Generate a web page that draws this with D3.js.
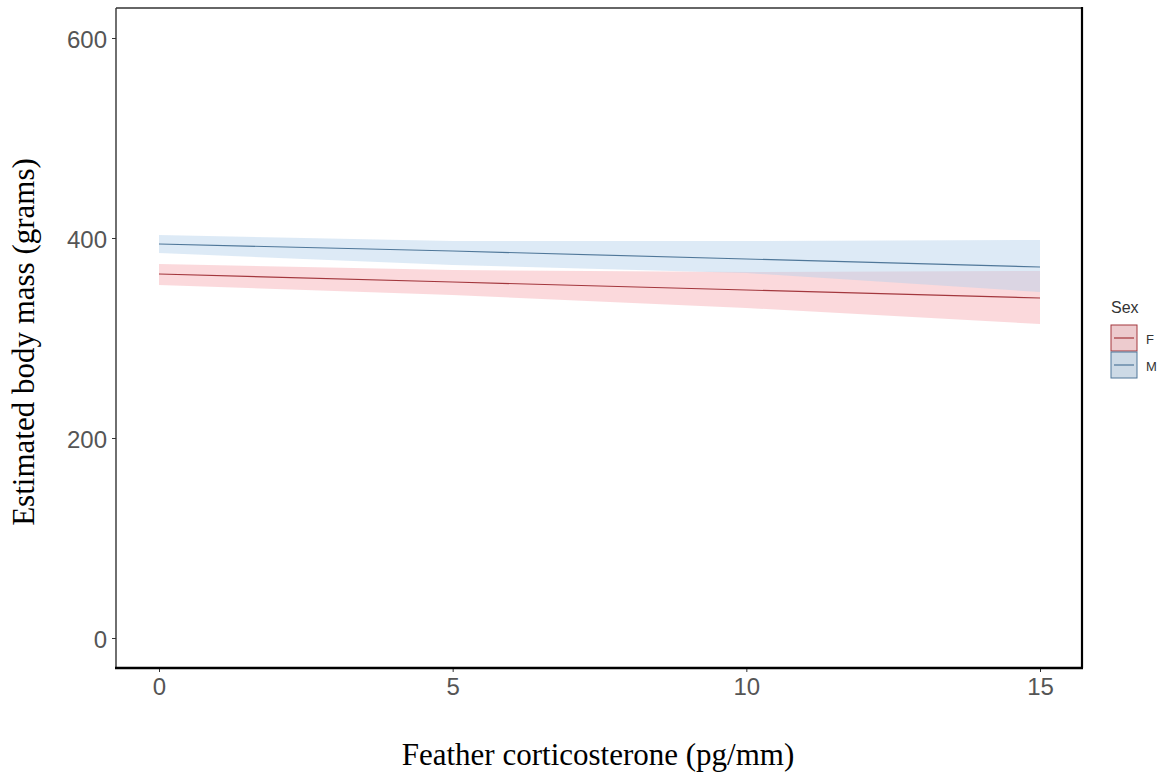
<!DOCTYPE html>
<html><head><meta charset="utf-8">
<script src="https://cdn.jsdelivr.net/npm/d3@7"></script>
<style>body{margin:0;background:#fff}</style>
</head><body>
<svg id="c" width="1163" height="780"></svg>
<script>
const xs = [0, 5, 10, 15];
const fFit = [364, 356, 348, 340];
const fLo  = [353, 343, 330, 314];
const fHi  = [374, 368, 366, 367];
const mFit = [394, 387, 379, 371];
const mLo  = [385, 373, 365, 346];
const mHi  = [403, 397, 397, 398];
const xTicks = [0, 5, 10, 15];
const yTicks = [0, 200, 400, 600];
const sexes = ["F", "M"];

const svg = d3.select("#c");
const L = 116, R = 1082, T = 8, B = 668;
const x = d3.scaleLinear().domain([0, 15]).range([159, 1040]);
const y = d3.scaleLinear().domain([0, 600]).range([638, 38]);

const styles = {
  F: {fill: "#f8b4ba", op: 0.5, line: "#a3373d"},
  M: {fill: "#b4d0ec", op: 0.45, line: "#4f7799"}
};
const series = [
  {k: "F", fit: fFit, lo: fLo, hi: fHi},
  {k: "M", fit: mFit, lo: mLo, hi: mHi}
];
const area = d3.area().x(d => x(d.x)).y0(d => y(d.lo)).y1(d => y(d.hi));
const line = d3.line().x(d => x(d.x)).y(d => y(d.v));
series.forEach(s => {
  const pts = xs.map((v, i) => ({x: v, lo: s.lo[i], hi: s.hi[i]}));
  svg.append("path").attr("d", area(pts)).attr("fill", styles[s.k].fill).attr("fill-opacity", styles[s.k].op);
});
series.forEach(s => {
  const pts = xs.map((v, i) => ({x: v, v: s.fit[i]}));
  svg.append("path").attr("d", line(pts)).attr("fill", "none").attr("stroke", styles[s.k].line).attr("stroke-width", 1.2);
});

const tickFont = "24px 'Liberation Sans', Arial, sans-serif";
const yAxis = svg.append("g").attr("transform", `translate(${L},0)`)
  .call(d3.axisLeft(y).tickValues(yTicks).tickSize(4).tickPadding(5));
yAxis.select(".domain").remove();
yAxis.selectAll("line").attr("stroke", "#333");
yAxis.selectAll("text").attr("fill", "#555").attr("dy", "0.4em").style("font", tickFont);

const xAxis = svg.append("g").attr("transform", `translate(0,${B})`)
  .call(d3.axisBottom(x).tickValues(xTicks).tickSize(4).tickPadding(6));
xAxis.select(".domain").remove();
xAxis.selectAll("line").attr("stroke", "#333");
xAxis.selectAll("text").attr("fill", "#555").style("font", tickFont);

// panel border
svg.append("line").attr("x1", L).attr("x2", L).attr("y1", T).attr("y2", B).attr("stroke", "#333").attr("stroke-width", 1.4);
svg.append("line").attr("x1", L).attr("x2", R).attr("y1", T).attr("y2", T).attr("stroke", "#333").attr("stroke-width", 1.4);
svg.append("line").attr("x1", L - 1).attr("x2", R + 1).attr("y1", B).attr("y2", B).attr("stroke", "#000").attr("stroke-width", 2.4);
svg.append("line").attr("x1", R).attr("x2", R).attr("y1", T - 1).attr("y2", B).attr("stroke", "#000").attr("stroke-width", 2.2);

// titles
const titleFont = "31px 'Liberation Serif', 'Times New Roman', serif";
svg.append("text").attr("x", 598).attr("y", 765).attr("text-anchor", "middle")
  .style("font", titleFont).text("Feather corticosterone (pg/mm)");
svg.append("text").attr("transform", "translate(34,342) rotate(-90)").attr("text-anchor", "middle")
  .style("font", titleFont).text("Estimated body mass (grams)");

// legend
svg.append("text").attr("x", 1111).attr("y", 313).attr("fill", "#333")
  .style("font", "16px 'Liberation Sans', Arial, sans-serif").text("Sex");
sexes.forEach((k, i) => {
  const y0 = 325 + i * 27;
  svg.append("rect").attr("x", 1111).attr("y", y0).attr("width", 26).attr("height", 26)
    .attr("fill", "#e2e2e2");
  svg.append("rect").attr("x", 1111).attr("y", y0).attr("width", 26).attr("height", 26)
    .attr("fill", styles[k].fill).attr("fill-opacity", styles[k].op)
    .attr("stroke", styles[k].line).attr("stroke-width", 1);
  svg.append("line").attr("x1", 1114).attr("x2", 1134).attr("y1", y0 + 13).attr("y2", y0 + 13)
    .attr("stroke", styles[k].line).attr("stroke-width", 1.2);
  svg.append("text").attr("x", 1146).attr("y", y0 + 19).attr("fill", "#333")
    .style("font", "13px 'Liberation Sans', Arial, sans-serif").text(k);
});
</script>
</body></html>
